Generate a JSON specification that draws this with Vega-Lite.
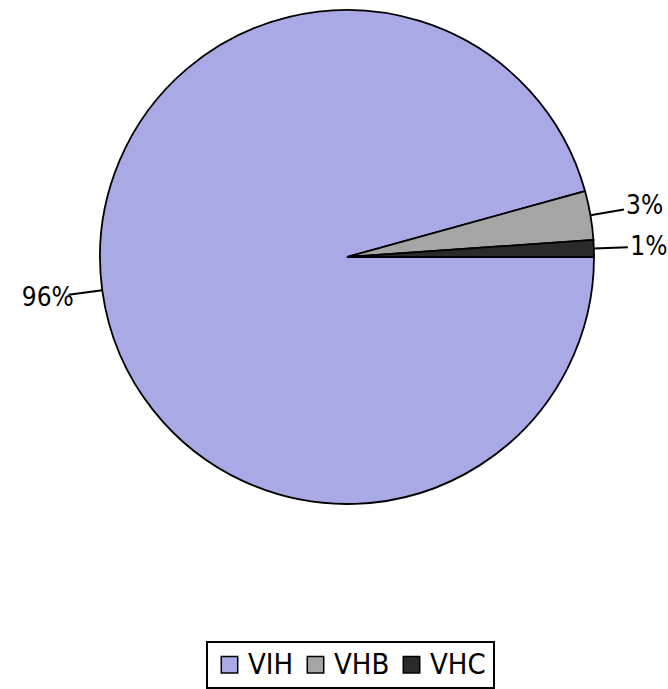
{
  "$schema": "https://vega.github.io/schema/vega-lite/v6.json",
  "width": 642,
  "height": 514,
  "autosize": {"type": "none"},
  "padding": {"left": 26, "top": 0, "right": 0, "bottom": 175},
  "background": "white",
  "data": {
    "values": [
      {"cat": "VIH", "value": 95.7, "rank": 1, "label": "96%"},
      {"cat": "VHB", "value": 3.2, "rank": 2, "label": "3%"},
      {"cat": "VHC", "value": 1.1, "rank": 3, "label": "1%"}
    ]
  },
  "transform": [
    {"stack": "value", "groupby": [], "sort": [{"field": "rank"}], "as": ["v0", "v1"]},
    {"calculate": "(datum.v0 + datum.v1) / 2", "as": "mid"}
  ],
  "layer": [
    {
      "mark": {"type": "arc", "outerRadius": 247, "stroke": "black", "strokeWidth": 1.8},
      "encoding": {
        "theta": {"field": "v0", "type": "quantitative", "scale": {"domain": [0, 100], "range": [1.5708, 7.854]}},
        "theta2": {"field": "v1"},
        "color": {
          "field": "cat", "type": "nominal",
          "scale": {"domain": ["VIH", "VHB", "VHC"], "range": ["#A9A9E5", "#A5A5A5", "#2A2A2A"]},
          "legend": {"title": null}
        }
      }
    },
    {
      "mark": {"type": "arc", "innerRadius": 247, "outerRadius": 281, "stroke": "black", "strokeWidth": 2, "fill": null},
      "encoding": {
        "theta": {"field": "mid", "type": "quantitative", "scale": {"domain": [0, 100], "range": [1.5708, 7.854]}},
        "theta2": {"field": "mid"}
      }
    },
    {
      "mark": {"type": "text", "radius": 302, "font": "DejaVu Sans Condensed", "fontSize": 26, "fill": "black", "align": "center", "baseline": "middle"},
      "encoding": {
        "theta": {"field": "mid", "type": "quantitative", "scale": {"domain": [0, 100], "range": [1.5708, 7.854]}},
        "text": {"field": "label"}
      }
    }
  ],
  "config": {
    "view": {"stroke": null},
    "legend": {
      "orient": "none",
      "legendX": 181,
      "legendY": 642,
      "direction": "horizontal",
      "symbolType": "square",
      "symbolSize": 270,
      "symbolStrokeColor": "black",
      "symbolStrokeWidth": 1.5,
      "symbolOpacity": 1,
      "labelFontSize": 29,
      "labelFont": "DejaVu Sans Condensed",
      "labelColor": "black",
      "labelLimit": 200,
      "labelOffset": 4,
      "columnPadding": 7,
      "strokeColor": "black",
      "strokeWidth": 2,
      "fillColor": "white",
      "padding": 8
    }
  }
}
